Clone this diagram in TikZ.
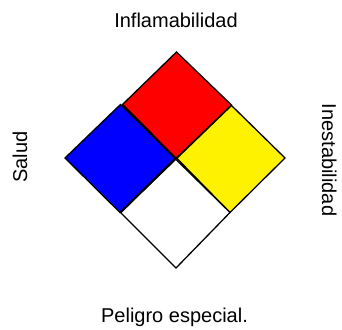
\documentclass[tikz,border=0pt]{standalone}
\usepackage{fontspec}
\setmainfont{Liberation Sans}
\begin{document}
\begin{tikzpicture}[x=1pt,y=-1pt,
  cell/.style={draw=black,line width=1.3pt,line join=miter},
  lbl/.style={font=\fontsize{20}{24}\selectfont,inner sep=0pt}]
\useasboundingbox (0,0) rectangle (342,329);
% squares
\filldraw[cell,fill=red] (176.5,52) -- (231.5,105) -- (176,158.3) -- (122.5,104.5) -- cycle;
\filldraw[cell,fill=yellow] (231.5,105.5) -- (285,158) -- (230,212.5) -- (176.8,158.3) -- cycle;
\filldraw[cell,fill=white] (175.8,159.3) -- (230,212.5) -- (176,268) -- (120.5,212.5) -- cycle;
\filldraw[cell,fill=blue] (120.5,104.5) -- (175.5,158.3) -- (120,212.5) -- (65,158) -- cycle;
\draw[line width=2pt,line join=miter] (122,104.5) -- (175.5,158.3) -- (120.5,212.5);
% labels
\node[lbl,anchor=base] (top) at (176,27.5) {Inflamabilidad};
\node[lbl,anchor=base] (bottom) at (174.5,322.5) {Peligro especial.};
\node[lbl,anchor=base,rotate=90] (left) at (27,157) {Salud};
\node[lbl,anchor=base,rotate=-90] (right) at (322,160) {Inestabilidad};
\end{tikzpicture}
\end{document}
